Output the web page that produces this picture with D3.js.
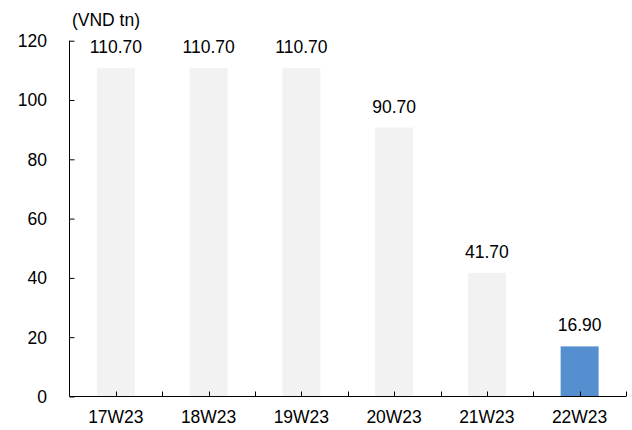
<!DOCTYPE html>
<html>
<head>
<meta charset="utf-8">
<script src="https://cdn.jsdelivr.net/npm/d3@7"></script>
<style>
  html, body { margin: 0; padding: 0; background: #fff; }
  svg text { font-family: "Liberation Sans", Arial, sans-serif; fill: #000; }
</style>
</head>
<body>
<svg id="chart" width="632" height="430"></svg>
<script>
// Weekly values (VND tn)
const categories = ["17W23", "18W23", "19W23", "20W23", "21W23", "22W23"];
const values = [110.70, 110.70, 110.70, 90.70, 41.70, 16.90];
const yTicks = [0, 20, 40, 60, 80, 100, 120];
const unitLabel = "(VND tn)";

const svg = d3.select("#chart");
const plotLeft = 69.5, plotRight = 626, plotTop = 40.7, plotBottom = 396.5;
const fontSize = 17.5;

const x = d3.scaleBand().domain(categories).range([plotLeft, plotRight]).paddingInner(0).paddingOuter(0);
const y = d3.scaleLinear().domain([0, 120]).range([plotBottom, plotTop]);
const barW = 38;

// Bars: latest week highlighted in blue
svg.append("g").selectAll("rect")
  .data(values)
  .join("rect")
  .attr("x", (d, i) => x(categories[i]) + x.bandwidth() / 2 - barW / 2)
  .attr("y", d => y(d))
  .attr("width", barW)
  .attr("height", d => y(0) - y(d))
  .attr("fill", (d, i) => i === values.length - 1 ? "#558fd0" : "#f2f2f2");

// Value labels above bars
svg.append("g").selectAll("text")
  .data(values)
  .join("text")
  .attr("x", (d, i) => x(categories[i]) + x.bandwidth() / 2)
  .attr("y", d => y(d) - 15)
  .attr("text-anchor", "middle")
  .attr("font-size", fontSize)
  .text(d => d.toFixed(2));

// Y axis with inward ticks
const yAxis = svg.append("g")
  .attr("transform", `translate(${plotLeft},0)`)
  .call(d3.axisRight(y).tickValues(yTicks).tickSize(5).tickFormat(""));
yAxis.select(".domain").attr("d", `M0,${y(120)}V${y(0)}`).attr("stroke", "#000");
yAxis.selectAll(".tick line").attr("stroke", "#000");

svg.append("g").selectAll("text")
  .data(yTicks)
  .join("text")
  .attr("x", 47)
  .attr("y", d => y(d))
  .attr("dy", "0.36em")
  .attr("text-anchor", "end")
  .attr("font-size", fontSize)
  .text(d => d);

// X axis: ticks at band centers and band edges, pointing up
const halfTicks = [];
categories.forEach(c => {
  halfTicks.push(x(c) + x.bandwidth() / 2);
  halfTicks.push(x(c) + x.bandwidth());
});
const xAxis = svg.append("g");
xAxis.append("line")
  .attr("x1", plotLeft).attr("x2", plotRight)
  .attr("y1", plotBottom).attr("y2", plotBottom)
  .attr("stroke", "#000");
xAxis.selectAll("line.t")
  .data(halfTicks)
  .join("line")
  .attr("class", "t")
  .attr("x1", d => Math.round(d) + 0.5).attr("x2", d => Math.round(d) + 0.5)
  .attr("y1", plotBottom).attr("y2", plotBottom - 5)
  .attr("stroke", "#000");

svg.append("g").selectAll("text")
  .data(categories)
  .join("text")
  .attr("x", d => x(d) + x.bandwidth() / 2)
  .attr("y", 423)
  .attr("text-anchor", "middle")
  .attr("font-size", fontSize)
  .text(d => d);

// Unit label
svg.append("text")
  .attr("x", 106)
  .attr("y", 26)
  .attr("text-anchor", "middle")
  .attr("font-size", fontSize)
  .text(unitLabel);
</script>
</body>
</html>
